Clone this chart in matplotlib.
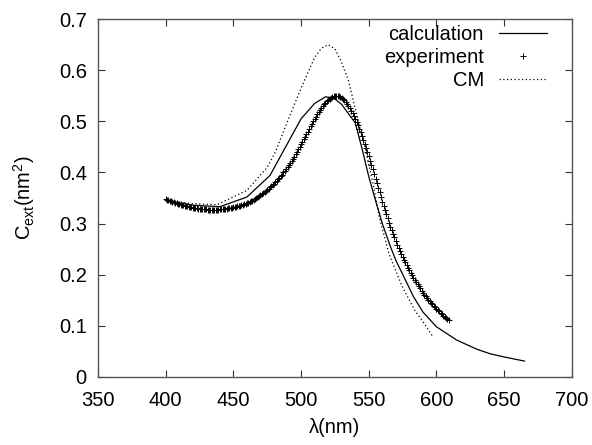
import matplotlib
matplotlib.use("Agg")
import matplotlib.pyplot as plt

plt.rcParams['font.family'] = ['Liberation Sans', 'DejaVu Sans']
plt.rcParams['mathtext.fontset'] = 'custom'
plt.rcParams['mathtext.rm'] = 'Liberation Sans'
plt.rcParams['mathtext.it'] = 'Liberation Sans:italic'

# measured spectrum, 1 nm step from 400 to 609 nm
exp_wl = list(range(400, 610))
exp_c = [0.348, 0.347, 0.346, 0.345, 0.344, 0.343, 0.342, 0.341, 0.340, 0.339,
         0.338, 0.337, 0.337, 0.336, 0.335, 0.334, 0.334, 0.333, 0.332, 0.332,
         0.331, 0.331, 0.330, 0.330, 0.329, 0.329, 0.329, 0.328, 0.328, 0.328,
         0.328, 0.327, 0.327, 0.327, 0.327, 0.327, 0.327, 0.327, 0.327, 0.327,
         0.328, 0.328, 0.328, 0.329, 0.329, 0.329, 0.330, 0.330, 0.331, 0.331,
         0.332, 0.332, 0.333, 0.334, 0.334, 0.335, 0.336, 0.337, 0.338, 0.339,
         0.340, 0.341, 0.342, 0.344, 0.345, 0.347, 0.348, 0.350, 0.352, 0.354,
         0.356, 0.358, 0.360, 0.362, 0.364, 0.366, 0.368, 0.371, 0.373, 0.376,
         0.378, 0.381, 0.384, 0.387, 0.390, 0.393, 0.396, 0.400, 0.403, 0.407,
         0.411, 0.415, 0.419, 0.423, 0.427, 0.431, 0.436, 0.440, 0.445, 0.450,
         0.455, 0.460, 0.465, 0.470, 0.475, 0.480, 0.485, 0.490, 0.495, 0.500,
         0.505, 0.509, 0.514, 0.518, 0.522, 0.526, 0.530, 0.533, 0.536, 0.539,
         0.542, 0.544, 0.546, 0.548, 0.549, 0.550, 0.550, 0.550, 0.549, 0.548,
         0.546, 0.544, 0.541, 0.538, 0.534, 0.530, 0.526, 0.521, 0.516, 0.511,
         0.505, 0.499, 0.493, 0.486, 0.479, 0.472, 0.464, 0.456, 0.448, 0.440,
         0.432, 0.423, 0.415, 0.406, 0.397, 0.388, 0.379, 0.370, 0.361, 0.352,
         0.343, 0.334, 0.326, 0.318, 0.310, 0.302, 0.294, 0.287, 0.280, 0.273,
         0.266, 0.259, 0.253, 0.247, 0.241, 0.235, 0.229, 0.224, 0.219, 0.214,
         0.209, 0.204, 0.199, 0.194, 0.190, 0.185, 0.181, 0.177, 0.173, 0.169,
         0.165, 0.161, 0.158, 0.154, 0.151, 0.148, 0.145, 0.142, 0.139, 0.136,
         0.133, 0.130, 0.128, 0.125, 0.123, 0.120, 0.118, 0.116, 0.113, 0.111]

calc_wl = [400, 420, 440, 460, 477, 500, 510, 518, 524, 530, 540, 545, 550, 555,
           560, 566, 570, 577, 583, 590, 600, 615, 630, 640, 650, 665]
calc_c = [0.345, 0.336, 0.333, 0.352, 0.394, 0.505, 0.535, 0.548, 0.546, 0.533,
          0.497, 0.447, 0.392, 0.345, 0.300, 0.255, 0.228, 0.190, 0.157, 0.127,
          0.098, 0.072, 0.054, 0.045, 0.039, 0.031]

cm_wl = [400, 420, 438, 460, 475, 481, 490, 500, 510, 515, 520, 525, 530, 535,
         542, 548, 553, 558, 565, 575, 584, 590, 597]
cm_c = [0.346, 0.339, 0.337, 0.365, 0.410, 0.440, 0.500, 0.565, 0.625, 0.643,
        0.650, 0.642, 0.615, 0.580, 0.503, 0.440, 0.380, 0.310, 0.240, 0.175,
        0.130, 0.108, 0.080]

fig = plt.figure(figsize=(5.92, 4.45), dpi=100)
ax = fig.add_axes([0.1655, 0.153, 0.8005, 0.804])

ax.plot(calc_wl, calc_c, color='black', lw=0.9, label='calculation')
ax.plot(exp_wl, exp_c, ls='none', marker='+', ms=5, mew=0.7, color='black',
        label='experiment')
ax.plot(cm_wl, cm_c, color='black', lw=0.9, ls=(0, (1, 2)), label='CM')

ax.set_xlim(350, 700)
ax.set_ylim(0, 0.7)
ax.set_xticks(range(350, 701, 50))
ax.set_yticks([0, 0.1, 0.2, 0.3, 0.4, 0.5, 0.6, 0.7])
ax.set_yticklabels(['0', '0.1', '0.2', '0.3', '0.4', '0.5', '0.6', '0.7'])
ax.tick_params(direction='in', top=True, right=True, length=5, width=0.8,
               labelsize=14.5, color='#333333')
ax.tick_params(axis='x', pad=10)
ax.tick_params(axis='y', pad=8)
for s in ax.spines.values():
    s.set_color('#555555')
    s.set_linewidth(1.0)

ax.set_xlabel('λ(nm)', fontsize=14.5, labelpad=6)
ax.set_ylabel(r'C$_{\rm ext}$(nm$^2$)', fontsize=14.5, labelpad=16)

ax.legend(loc='upper right', frameon=False, markerfirst=False, fontsize=14.5,
          handlelength=2.4, handletextpad=0.75, labelspacing=0.2,
          borderaxespad=0.0, bbox_to_anchor=(0.965, 1.005))

fig.savefig('out.png', dpi=100)
